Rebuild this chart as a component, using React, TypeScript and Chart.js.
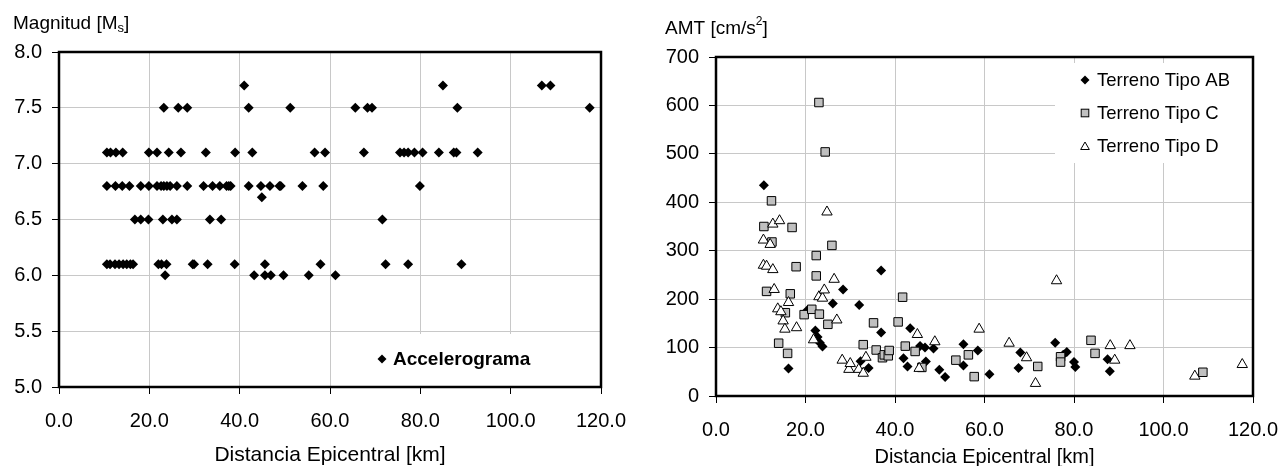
import React, { useEffect, useRef } from 'react';
import { Chart, registerables } from 'chart.js';

Chart.register(...registerables);

const FONT = "'Liberation Sans', Arial, Helvetica, sans-serif";

// ---------- Left chart: Magnitud vs Distancia Epicentral ----------
const magLevels = [7.7, 7.5, 7.1, 6.8, 6.7, 6.5, 6.1, 6.0];
const distAt77 = [41.0, 85.0, 106.9, 108.8];
const distAt75 = [23.2, 26.4, 28.4, 42.0, 51.2, 65.6, 68.3, 69.3, 88.2, 117.5];
const distAt71 = [10.6, 11.4, 12.6, 14.1, 19.9, 21.7, 24.3, 27.0, 32.5, 39.0, 42.8, 56.6, 58.9, 67.5, 75.5, 76.4, 77.3, 78.7, 80.5, 84.1, 87.4, 88.0, 92.7];
const distAt68 = [10.6, 12.5, 14.0, 15.6, 18.1, 19.9, 21.7, 22.6, 23.2, 23.9, 24.6, 26.1, 28.4, 32.0, 34.0, 35.6, 37.1, 37.6, 38.0, 42.0, 44.7, 46.7, 48.8, 49.1, 53.9, 58.5, 79.9];
const distAt67 = [44.9];
const distAt65 = [16.8, 18.1, 19.8, 23.0, 25.0, 26.1, 33.4, 35.9, 71.6];
const distAt61 = [10.6, 11.3, 12.4, 13.3, 14.2, 15.0, 15.8, 16.4, 22.0, 22.7, 23.8, 29.6, 29.9, 32.9, 38.9, 45.6, 57.9, 72.3, 77.3, 89.1];
const distAt60 = [23.5, 43.2, 45.6, 46.9, 49.7, 55.3, 61.2];
const distByLevel = [distAt77, distAt75, distAt71, distAt68, distAt67, distAt65, distAt61, distAt60];

const leftXTicks = [0, 20, 40, 60, 80, 100, 120];
const leftYTicks = [5.0, 5.5, 6.0, 6.5, 7.0, 7.5, 8.0];

// ---------- Right chart: AMT vs Distancia Epicentral ----------
const abDist = [10.7, 16.2, 20.3, 22.2, 22.7, 23.2, 23.8, 26.1, 28.4, 32.0, 32.3, 34.1, 36.9, 36.9, 41.9, 42.8, 43.4, 45.6, 46.7, 46.9, 48.6, 49.9, 51.2, 55.3, 55.3, 58.5, 61.1, 67.6, 68.0, 75.8, 77.6, 78.4, 80.0, 80.3, 87.5, 88.0];
const abAmt = [435, 57, 176, 135, 122, 110, 102, 191, 220, 188, 72, 58, 259, 131, 78, 61, 140, 103, 100, 71, 98, 54, 39, 107, 63, 94, 45, 58, 90, 110, 85, 91, 70, 60, 76, 51];

const cDist = [10.7, 11.3, 12.4, 12.5, 14.0, 15.5, 16.0, 16.6, 17.0, 17.9, 19.7, 21.4, 22.4, 22.4, 23.0, 23.1, 24.4, 25.0, 25.9, 32.9, 35.2, 35.8, 37.2, 37.6, 38.5, 38.7, 40.7, 41.7, 42.3, 44.5, 46.0, 53.6, 56.4, 57.7, 71.9, 77.0, 77.0, 83.8, 84.7, 108.8];
const cAmt = [350, 216, 403, 318, 109, 172, 88, 211, 348, 267, 168, 179, 290, 248, 606, 169, 504, 148, 311, 106, 151, 95, 79, 85, 83, 94, 153, 204, 103, 92, 59, 74, 85, 40, 61, 81, 70, 115, 88, 49];

const dDist = [10.6, 10.6, 11.3, 12.1, 12.7, 12.7, 13.0, 13.8, 14.2, 14.5, 15.0, 15.4, 16.2, 18.0, 21.8, 23.0, 23.8, 24.2, 24.8, 26.4, 27.0, 28.2, 29.7, 30.0, 31.9, 32.9, 33.5, 45.0, 45.4, 48.9, 58.8, 65.5, 69.4, 71.4, 76.1, 88.1, 89.1, 92.5, 107.0, 117.6];
const dAmt = [322, 270, 268, 313, 355, 261, 220, 180, 362, 174, 155, 138, 193, 141, 116, 205, 202, 219, 380, 241, 157, 74, 55, 67, 55, 47, 80, 127, 57, 112, 138, 109, 79, 26, 238, 104, 74, 104, 41, 65];

const rightXTicks = [0, 20, 40, 60, 80, 100, 120];
const rightYTicks = [0, 100, 200, 300, 400, 500, 600, 700];

const seriesNames = ['Terreno Tipo AB', 'Terreno Tipo C', 'Terreno Tipo D'];

// ---------- helpers ----------
function zip(xs: number[], ys: number[]) {
  return xs.map((x, i) => ({ x, y: ys[i] }));
}

function drawDiamond(ctx: CanvasRenderingContext2D, x: number, y: number, r: number) {
  ctx.beginPath();
  ctx.moveTo(x, y - r);
  ctx.lineTo(x + r, y);
  ctx.lineTo(x, y + r);
  ctx.lineTo(x - r, y);
  ctx.closePath();
  ctx.fillStyle = '#000';
  ctx.fill();
}

function drawSquare(ctx: CanvasRenderingContext2D, x: number, y: number, h: number) {
  ctx.fillStyle = '#c0c0c0';
  ctx.fillRect(x - h, y - h, 2 * h, 2 * h);
  ctx.lineWidth = 1;
  ctx.strokeStyle = '#000';
  ctx.strokeRect(x - h, y - h, 2 * h, 2 * h);
}

function drawTriangle(ctx: CanvasRenderingContext2D, x: number, y: number, r: number) {
  ctx.beginPath();
  ctx.moveTo(x, y - r);
  ctx.lineTo(x + r * 0.866, y + r * 0.5);
  ctx.lineTo(x - r * 0.866, y + r * 0.5);
  ctx.closePath();
  ctx.fillStyle = '#fff';
  ctx.fill();
  ctx.lineWidth = 1;
  ctx.strokeStyle = '#000';
  ctx.stroke();
}

function drawFrame(chart: any) {
  const ctx = chart.ctx as CanvasRenderingContext2D;
  const a = chart.chartArea;
  ctx.save();
  ctx.lineWidth = 2.5;
  ctx.strokeStyle = '#000';
  ctx.strokeRect(a.left, a.top, a.right - a.left, a.bottom - a.top);
  ctx.restore();
}

function fixedTicks(values: number[]) {
  return (scale: any) => {
    scale.ticks = values.map((v) => ({ value: v }));
  };
}

function makeScales(opts: {
  xMin: number; xMax: number; xTicks: number[];
  yMin: number; yMax: number; yTicks: number[]; yDigits: number;
  yWidth: number; xHeight: number; tickSize: number;
}) {
  const grid = { color: '#c8c8c8', lineWidth: 1, tickColor: '#000', tickLength: 7, drawTicks: true };
  return {
    x: {
      type: 'linear' as const,
      min: opts.xMin,
      max: opts.xMax,
      afterBuildTicks: fixedTicks(opts.xTicks),
      afterFit: (s: any) => {
        s.height = opts.xHeight;
        s.paddingLeft = 0;
        s.paddingRight = 0;
      },
      grid,
      border: { display: false },
      ticks: {
        font: { size: opts.tickSize, family: FONT }, color: '#000', padding: 15, maxRotation: 0, autoSkip: false,
        callback: (v: any) => Number(v).toFixed(1),
      },
    },
    y: {
      type: 'linear' as const,
      min: opts.yMin,
      max: opts.yMax,
      afterBuildTicks: fixedTicks(opts.yTicks),
      afterFit: (s: any) => {
        s.width = opts.yWidth;
        s.paddingTop = 0;
        s.paddingBottom = 0;
      },
      grid,
      border: { display: false },
      ticks: {
        font: { size: opts.tickSize, family: FONT }, color: '#000', padding: 10, autoSkip: false,
        callback: (v: any) => Number(v).toFixed(opts.yDigits),
      },
    },
  };
}

// ---------- plugins ----------
const leftDecor = {
  id: 'leftDecor',
  afterDraw(chart: any) {
    const ctx = chart.ctx as CanvasRenderingContext2D;
    const a = chart.chartArea;
    ctx.save();
    // legend
    ctx.fillStyle = '#fff';
    ctx.fillRect(372, 334, a.right - 372, a.bottom - 334);
    drawDiamond(ctx, 382, 359, 4.5);
    ctx.fillStyle = '#000';
    ctx.font = `bold 19px ${FONT}`;
    ctx.textBaseline = 'middle';
    ctx.textAlign = 'left';
    ctx.fillText('Accelerograma', 393, 360);
    // y-axis title with subscript
    ctx.textBaseline = 'alphabetic';
    ctx.font = `19px ${FONT}`;
    let x = 13;
    const t1 = 'Magnitud [M';
    ctx.fillText(t1, x, 29);
    x += ctx.measureText(t1).width;
    ctx.font = `13px ${FONT}`;
    ctx.fillText('s', x, 32);
    x += ctx.measureText('s').width;
    ctx.font = `19px ${FONT}`;
    ctx.fillText(']', x, 29);
    // x-axis title
    ctx.font = `21px ${FONT}`;
    ctx.textAlign = 'center';
    ctx.fillText('Distancia Epicentral [km]', (a.left + a.right) / 2, 461);
    ctx.restore();
    drawFrame(chart);
  },
};

const rightDecor = {
  id: 'rightDecor',
  afterDraw(chart: any) {
    const ctx = chart.ctx as CanvasRenderingContext2D;
    const a = chart.chartArea;
    ctx.save();
    // legend
    ctx.fillStyle = '#fff';
    ctx.fillRect(415, 63, a.right - 415, 100);
    const rows = [80, 113, 146];
    drawDiamond(ctx, 445, rows[0], 4.5);
    drawSquare(ctx, 445, rows[1], 3.8);
    drawTriangle(ctx, 445, rows[2] + 1, 5);
    ctx.fillStyle = '#000';
    ctx.font = `18.5px ${FONT}`;
    ctx.textBaseline = 'middle';
    ctx.textAlign = 'left';
    seriesNames.forEach((n, i) => ctx.fillText(n, 457, rows[i] + 1));
    // y-axis title with superscript
    ctx.textBaseline = 'alphabetic';
    ctx.font = `19px ${FONT}`;
    let x = 25;
    const t1 = 'AMT [cm/s';
    ctx.fillText(t1, x, 34);
    x += ctx.measureText(t1).width;
    ctx.font = `12px ${FONT}`;
    ctx.fillText('2', x, 25);
    x += ctx.measureText('2').width;
    ctx.font = `19px ${FONT}`;
    ctx.fillText(']', x, 34);
    // x-axis title
    ctx.font = `20px ${FONT}`;
    ctx.textAlign = 'center';
    ctx.fillText('Distancia Epicentral [km]', (a.left + a.right) / 2, 463);
    ctx.restore();
    drawFrame(chart);
  },
};

function leftConfig(): any {
  const points: { x: number; y: number }[] = [];
  distByLevel.forEach((ds, i) => ds.forEach((d) => points.push({ x: d, y: magLevels[i] })));
  return {
    type: 'scatter',
    data: {
      datasets: [
        {
          label: 'Accelerograma',
          data: points,
          pointStyle: 'rectRot',
          pointRadius: 5,
          backgroundColor: '#000',
          borderColor: '#000',
          borderWidth: 0,
        },
      ],
    },
    options: {
      responsive: false,
      animation: false,
      events: [],
      layout: { padding: { left: 0, top: 52, right: 39, bottom: 0 } },
      plugins: { legend: { display: false }, tooltip: { enabled: false }, title: { display: false } },
      scales: makeScales({
        xMin: 0, xMax: 120, xTicks: leftXTicks,
        yMin: 5, yMax: 8, yTicks: leftYTicks, yDigits: 1,
        yWidth: 59, xHeight: 79, tickSize: 20,
      }),
    },
    plugins: [leftDecor],
  };
}

function rightConfig(): any {
  return {
    type: 'scatter',
    data: {
      datasets: [
        {
          label: seriesNames[0],
          data: zip(abDist, abAmt),
          pointStyle: 'rectRot',
          pointRadius: 5,
          backgroundColor: '#000',
          borderColor: '#000',
          borderWidth: 0,
          order: 3,
        },
        {
          label: seriesNames[1],
          data: zip(cDist, cAmt),
          pointStyle: 'rect',
          pointRadius: 6,
          backgroundColor: '#c0c0c0',
          borderColor: '#000',
          borderWidth: 1,
          order: 2,
        },
        {
          label: seriesNames[2],
          data: zip(dDist, dAmt),
          pointStyle: 'triangle',
          pointRadius: 6,
          backgroundColor: '#fff',
          borderColor: '#000',
          borderWidth: 1,
          order: 1,
        },
      ],
    },
    options: {
      responsive: false,
      animation: false,
      events: [],
      layout: { padding: { left: 0, top: 57, right: 27, bottom: 0 } },
      plugins: { legend: { display: false }, tooltip: { enabled: false }, title: { display: false } },
      scales: makeScales({
        xMin: 0, xMax: 120, xTicks: rightXTicks,
        yMin: 0, yMax: 700, yTicks: rightYTicks, yDigits: 0,
        yWidth: 76, xHeight: 70, tickSize: 20,
      }),
    },
    plugins: [rightDecor],
  };
}

export default function App() {
  const leftRef = useRef<HTMLCanvasElement>(null);
  const rightRef = useRef<HTMLCanvasElement>(null);

  useEffect(() => {
    const c1 = new Chart(leftRef.current as HTMLCanvasElement, leftConfig());
    const c2 = new Chart(rightRef.current as HTMLCanvasElement, rightConfig());
    return () => {
      c1.destroy();
      c2.destroy();
    };
  }, []);

  return (
    <div style={{ position: 'absolute', left: 0, top: 0, width: 1280, height: 466, background: '#fff', overflow: 'hidden' }}>
      <canvas ref={leftRef} width={640} height={466} style={{ position: 'absolute', left: 0, top: 0, width: 640, height: 466 }} />
      <canvas ref={rightRef} width={640} height={466} style={{ position: 'absolute', left: 640, top: 0, width: 640, height: 466 }} />
    </div>
  );
}
